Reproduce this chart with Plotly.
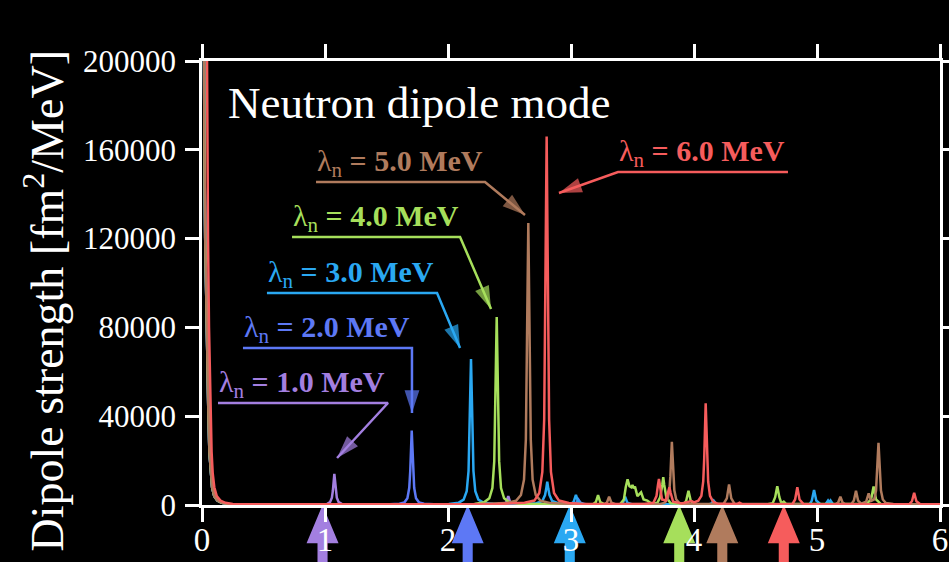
import plotly.graph_objects as go

# ---------------------------------------------------------------------------
# Neutron dipole strength functions for six values of the cutoff lambda_n.
# Each series is a list of (excitation energy [MeV], strength [fm^2/MeV]).
# ---------------------------------------------------------------------------

# steep low-energy rise shared by the lambda_n = 1..5 MeV curves
tail_common = [(0.0, 500000), (0.01, 300000), (0.016, 200000), (0.019, 166000),
               (0.026, 120000), (0.036, 80000), (0.051, 44000), (0.06, 24000),
               (0.07, 14400), (0.082, 8000), (0.1, 4000), (0.125, 2000),
               (0.16, 1000), (0.22, 500), (0.32, 300)]

# low-energy rise of the lambda_n = 6 MeV curve
tail_lam6 = [(0.0, 600000), (0.02, 400000), (0.032, 260000), (0.038, 200000),
             (0.042, 166000), (0.049, 120000), (0.057, 80000), (0.068, 44000),
             (0.078, 24000), (0.087, 14400), (0.1, 8000), (0.12, 4000),
             (0.15, 2000), (0.19, 1000), (0.25, 500), (0.35, 300)]

strength_lam1 = tail_common + [
    (0.6, 250), (0.9, 250), (0.976, 320), (1.016, 470), (1.041, 1260),
    (1.056, 3250), (1.064, 6400), (1.07, 10800), (1.076, 14000), (1.082, 10800),
    (1.088, 6400), (1.096, 3250), (1.111, 1260), (1.136, 470), (1.176, 320),
    (1.5, 250), (2.0, 250), (2.45, 300), (2.474, 1200), (2.49, 4000),
    (2.506, 1200), (2.53, 300), (3.0, 250), (4.0, 200), (5.0, 200), (6.0, 200)]

strength_lam2 = tail_common + [
    (0.6, 250), (1.2, 250), (1.525, 300), (1.605, 550), (1.645, 1090),
    (1.67, 3000), (1.685, 7770), (1.693, 15300), (1.699, 25800), (1.705, 33500),
    (1.711, 25800), (1.717, 15300), (1.725, 7770), (1.74, 3000), (1.765, 1090),
    (1.805, 550), (1.885, 300), (2.5, 250), (3.0, 300), (3.04, 800),
    (3.06, 2500), (3.08, 800), (3.12, 300), (4.0, 250), (5.0, 250), (6.0, 250)]

strength_lam3 = tail_common + [
    (0.8, 250), (1.6, 300), (2.007, 480), (2.087, 1050), (2.127, 2400),
    (2.152, 6200), (2.167, 15300), (2.175, 30100), (2.181, 50700), (2.187, 65800),
    (2.193, 50700), (2.199, 30100), (2.207, 15300), (2.222, 6200), (2.247, 2400),
    (2.287, 1050), (2.367, 600), (2.5, 500), (2.72, 800), (2.767, 1800),
    (2.789, 4500), (2.799, 7500), (2.807, 10500), (2.815, 7500), (2.825, 4500),
    (2.847, 1800), (2.9, 700), (3.0, 500), (3.022, 1500), (3.04, 4500),
    (3.058, 1500), (3.1, 350), (3.4, 300), (3.422, 1000), (3.44, 3700),
    (3.458, 1000), (3.5, 300), (4.12, 300), (4.142, 700), (4.16, 2000),
    (4.178, 700), (4.2, 300), (4.94, 300), (4.958, 2000), (4.976, 6800),
    (4.994, 2000), (5.03, 300), (5.07, 400), (5.09, 2000), (5.1, 1200),
    (5.11, 2000), (5.13, 400), (5.3, 250), (6.0, 250)]

strength_lam4 = tail_common + [
    (0.8, 250), (1.8, 300), (2.216, 500), (2.296, 1300), (2.336, 3000),
    (2.361, 7600), (2.376, 19650), (2.384, 38700), (2.39, 65200), (2.396, 84700),
    (2.402, 65200), (2.408, 38700), (2.416, 19650), (2.431, 7600), (2.456, 3000),
    (2.496, 1300), (2.576, 600), (2.8, 400), (3.18, 350), (3.202, 1300),
    (3.22, 4500), (3.238, 1300), (3.27, 350), (3.4, 400), (3.43, 2500),
    (3.445, 8000), (3.46, 11600), (3.475, 8500), (3.49, 8000), (3.5, 9000),
    (3.51, 7500), (3.52, 8300), (3.54, 4000), (3.57, 5700), (3.59, 2500),
    (3.62, 2000), (3.65, 800), (3.7, 800), (3.725, 3500), (3.742, 9000),
    (3.75, 12500), (3.758, 9000), (3.775, 3500), (3.81, 800), (3.92, 500),
    (3.937, 2000), (3.955, 6400), (3.973, 2000), (4.0, 500), (4.6, 300),
    (4.64, 800), (4.66, 3500), (4.677, 8500), (4.694, 3500), (4.71, 800),
    (4.73, 1500), (4.75, 400), (5.4, 400), (5.44, 2500), (5.46, 8300),
    (5.48, 2500), (5.52, 400), (6.0, 300)]

strength_lam5 = tail_common + [
    (1.0, 250), (2.2, 350), (2.473, 850), (2.553, 1900), (2.593, 4500),
    (2.618, 11400), (2.633, 29500), (2.641, 58000), (2.647, 97800), (2.653, 127000),
    (2.659, 97800), (2.665, 58000), (2.673, 29500), (2.688, 11400), (2.713, 4500),
    (2.753, 1900), (2.833, 850), (3.0, 400), (3.27, 350), (3.292, 1100),
    (3.31, 3700), (3.328, 1100), (3.36, 350), (3.72, 400), (3.76, 926),
    (3.785, 2570), (3.8, 6600), (3.808, 13000), (3.814, 21900), (3.82, 28500),
    (3.826, 21900), (3.832, 13000), (3.84, 6600), (3.855, 2570), (3.88, 926),
    (3.92, 400), (4.24, 450), (4.267, 3000), (4.285, 9300), (4.303, 3000),
    (4.33, 450), (5.15, 350), (5.172, 1100), (5.19, 3700), (5.208, 1100),
    (5.23, 400), (5.28, 500), (5.3, 2000), (5.317, 6400), (5.334, 2000),
    (5.36, 600), (5.4, 1500), (5.42, 5200), (5.44, 1800), (5.465, 2500),
    (5.48, 6500), (5.488, 12800), (5.494, 21600), (5.5, 28000), (5.506, 21600),
    (5.512, 12800), (5.52, 6500), (5.535, 2500), (5.56, 900), (5.62, 400),
    (6.0, 300)]

strength_lam6 = tail_lam6 + [
    (1.0, 250), (2.4, 400), (2.622, 1000), (2.702, 2000), (2.742, 5400),
    (2.767, 14900), (2.782, 38500), (2.79, 75900), (2.796, 127800), (2.802, 166000),
    (2.808, 127800), (2.814, 75900), (2.822, 38500), (2.837, 14900), (2.862, 5400),
    (2.902, 2000), (2.982, 900), (3.1, 400), (3.6, 400), (3.67, 1000),
    (3.695, 4000), (3.707, 9000), (3.715, 11700), (3.725, 8000), (3.74, 2500),
    (3.77, 2000), (3.79, 6000), (3.8, 8000), (3.81, 5500), (3.83, 1500),
    (3.9, 700), (3.98, 1800), (4.0, 1200), (4.035, 1900), (4.06, 4120),
    (4.075, 10600), (4.083, 20900), (4.089, 35300), (4.095, 45800), (4.101, 35300),
    (4.107, 20900), (4.115, 10600), (4.13, 4120), (4.155, 1490), (4.195, 550),
    (4.35, 400), (4.37, 1000), (4.39, 400), (4.8, 350), (4.822, 2500),
    (4.84, 8000), (4.858, 2500), (4.89, 400), (5.75, 350), (5.772, 1700),
    (5.79, 5500), (5.808, 1700), (5.84, 350), (6.0, 300)]

cutoffs = [1.0, 2.0, 3.0, 4.0, 5.0, 6.0]
spectra = [strength_lam1, strength_lam2, strength_lam3,
           strength_lam4, strength_lam5, strength_lam6]
# energies marked by the arrows under the energy axis, one per cutoff
threshold_energy = [0.98, 2.16, 2.99, 3.88, 4.23, 4.73]

x_ticks = [0, 1, 2, 3, 4, 5, 6]
y_ticks = [0, 40000, 80000, 120000, 160000, 200000]

colors = ["#a37fe0", "#5d78f5", "#2aa8f2", "#a6df5b", "#b07b5d", "#f65c5c"]

SERIF = "Liberation Serif"
fig = go.Figure()

for lam, pts, col in zip(cutoffs, spectra, colors):
    e, s = zip(*pts)
    fig.add_trace(go.Scatter(
        x=list(e), y=list(s), mode="lines",
        line=dict(color=col, width=2.5),
        name=f"lambda_n = {lam:.1f} MeV", hoverinfo="skip"))

# callouts: label anchored on an underline, leader line ending in an arrow
# (underline start, underline end, underline height, arrow tip)
callouts = [
    (0.130, 1.512, 45950, (1.098, 21170)),
    (0.333, 1.707, 70720, (1.707, 41440)),
    (0.528, 1.911, 95500, (2.098, 70720)),
    (0.732, 2.098, 120720, (2.350, 88290)),
    (0.927, 2.301, 145500, (2.626, 130630)),
    (3.382, 4.764, 150000, (2.902, 140540)),
]

for lam, col, (x0, x1, uy, tip) in zip(cutoffs, colors, callouts):
    if tip[0] < x0:      # leader leaves from the left end of the underline
        xs = [x1, x0, tip[0]]
    else:
        xs = [x0, x1, tip[0]]
    fig.add_trace(go.Scatter(
        x=xs, y=[uy, uy, tip[1]], mode="lines+markers",
        line=dict(color=col, width=2.5),
        marker=dict(symbol="arrow", angleref="previous", size=[0, 0, 24],
                    color=col, line=dict(width=0)),
        hoverinfo="skip", cliponaxis=False))
    fig.add_annotation(
        x=x0, y=uy, xref="x", yref="y", xanchor="left", yanchor="bottom",
        text=f"λ<sub>n</sub><b> = {lam:.1f} MeV</b>", showarrow=False,
        font=dict(family=SERIF, size=30, color=col), borderpad=0, yshift=-1)

# threshold arrows below the energy axis
head_half, shaft_half = 0.130, 0.041
head_base, shaft_end = -0.086, -0.16
for e0, col in zip(threshold_energy, colors):
    path = (f"M {e0},0 L {e0 + head_half},{head_base} L {e0 + shaft_half},{head_base} "
            f"L {e0 + shaft_half},{shaft_end} L {e0 - shaft_half},{shaft_end} "
            f"L {e0 - shaft_half},{head_base} L {e0 - head_half},{head_base} Z")
    fig.add_shape(type="path", path=path, xref="x", yref="paper",
                  fillcolor=col, line=dict(width=0), layer="below")

fig.add_annotation(
    x=0.033, y=0.905, xref="paper", yref="paper", xanchor="left", yanchor="middle",
    text="Neutron dipole mode", showarrow=False,
    font=dict(family=SERIF, size=45, color="white"))

fig.add_annotation(
    x=-0.214, y=0.4606, xref="paper", yref="paper", xanchor="center", yanchor="middle",
    text="Dipole strength [fm<sup>2</sup>/MeV]", textangle=-90, showarrow=False,
    font=dict(family=SERIF, size=46, color="white"))

axis_style = dict(showline=True, linecolor="white", linewidth=2.5, mirror="ticks",
                  ticks="outside", ticklen=14, tickwidth=2.5, tickcolor="white",
                  showgrid=False, zeroline=False, automargin=False)

fig.update_xaxes(range=[0, 6], tickvals=x_ticks, ticktext=[str(t) for t in x_ticks],
                 tickfont=dict(family=SERIF, size=33, color="white"),
                 ticklabelstandoff=-10, **axis_style)
fig.update_yaxes(range=[0, 200000], tickvals=y_ticks, ticktext=[str(t) for t in y_ticks],
                 tickfont=dict(family=SERIF, size=31, color="white"),
                 ticklabelstandoff=3, **axis_style)

fig.update_layout(
    width=949, height=562, showlegend=False,
    margin=dict(l=202, r=9, t=61, b=57, pad=0),
    paper_bgcolor="black", plot_bgcolor="black",
)

fig.write_html("out.html")
